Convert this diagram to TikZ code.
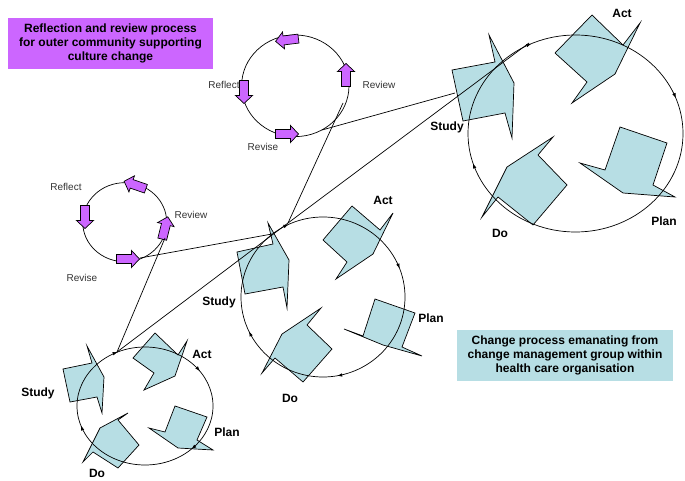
\documentclass[tikz,border=0pt]{standalone}
\usepackage{fontspec}
\setmainfont{Liberation Sans}
\usetikzlibrary{arrows.meta,decorations.markings}

\definecolor{pdsablue}{RGB}{183,222,228}
\definecolor{revpurple}{RGB}{204,102,255}

\tikzset{
  stage/.style={draw, fill=pdsablue, line width=0.7pt},
  loopring/.style={draw, line width=0.7pt},
  turn at/.style={postaction={decorate, decoration={markings,
      mark=at position #1 with {\arrow{Latex[length=5pt,width=3.5pt]}}}}},
  link/.style={draw, line width=0.7pt},
  small/.style={font=\fontsize{10}{12}\selectfont, text=black!80},
  phase/.style={font=\bfseries\fontsize{12}{14}\selectfont},
  notebox/.style={font=\bfseries\fontsize{12}{14}\selectfont, align=center,
      inner sep=0pt, minimum height=51pt},
  revarrow/.pic={\draw[fill=revpurple, line width=0.7pt]
      (-11.5,-4.5) -- (3.5,-4.5) -- (3.5,-8.5) -- (11.5,0) -- (3.5,8.5)
      -- (3.5,4.5) -- (-11.5,4.5) -- cycle;}
}

\begin{document}
\begin{tikzpicture}[x=1pt, y=-1pt]
    \useasboundingbox (0,0) rectangle (685,481);

    % captions
    \node[notebox, fill=revpurple, minimum width=205pt] (outer) at (110.5,43.5)
        {Reflection and review process\\for outer community supporting\\culture change};
    \node[notebox, fill=pdsablue, minimum width=216pt] (inner) at (565,355.5)
        {Change process emanating from\\change management group within\\health care organisation};

    % large cycle (right)
    \draw[stage] (452,70) -- (495,62) -- (489,35) -- (514,83) -- (512,138) -- (505,113) -- (463,121) -- cycle;
    \draw[stage] (592,15) -- (623,45) -- (640,23) -- (615,74) -- (572,103) -- (587,82) -- (555,53) -- cycle;
    \draw[stage] (620,127) -- (667,143) -- (653,185) -- (675,197) -- (623,193) -- (580,163) -- (605,170) -- cycle;
    \draw[stage] (553,137) -- (538,155) -- (567,185) -- (533,225) -- (498,197) -- (482,217) -- (507,167) -- cycle;
    \draw[loopring, turn at=0.453, turn at=0.68, turn at=0.944]
        (575.5,133.5) ellipse [x radius=107.5, y radius=98.5];
    \node[phase] (bigact) at (622,13) {Act};
    \node[phase] (bigstudy) at (447,127) {Study};
    \node[phase] (bigplan) at (664,221) {Plan};
    \node[phase] (bigdo) at (500,233) {Do};

    % middle cycle
    \draw[stage] (237,252) -- (273,244) -- (268,223) -- (289,260) -- (287,308) -- (283,287) -- (245,294) -- cycle;
    \draw[stage] (352,206) -- (380,230) -- (393,213) -- (373,254) -- (336,279) -- (347,262) -- (323,240) -- cycle;
    \draw[stage] (375,299) -- (415,313) -- (402,347) -- (422,356) -- (383,345) -- (344,329) -- (363,336) -- cycle;
    \draw[stage] (321,308) -- (307,325) -- (332,349) -- (303,382) -- (275,358) -- (262,373) -- (282,334) -- cycle;
    \draw[loopring, turn at=0.222, turn at=0.43, turn at=0.68, turn at=0.943]
        (323,297) ellipse [x radius=82, y radius=80];
    \node[phase] (midact) at (383,200) {Act};
    \node[phase] (midstudy) at (219,302) {Study};
    \node[phase] (midplan) at (431,318) {Plan};
    \node[phase] (middo) at (290,398) {Do};

    % small cycle (bottom left)
    \draw[stage] (63,369) -- (92,363) -- (87,346) -- (104,377) -- (102,413) -- (97,397) -- (70,402) -- cycle;
    \draw[stage] (155,333) -- (178,355) -- (187,341) -- (175,376) -- (144,390) -- (154,373) -- (133,358) -- cycle;
    \draw[stage] (175,406) -- (207,417) -- (197,440) -- (213,450) -- (178,448) -- (149,428) -- (165,432) -- cycle;
    \draw[stage] (128,413) -- (118,420) -- (139,445) -- (118,468) -- (93,452) -- (83,462) -- (100,428) -- cycle;
    \draw[loopring, turn at=0.125, turn at=0.45, turn at=0.68, turn at=0.905]
        (145,406) ellipse [x radius=68, y radius=59];
    \node[phase] (blact) at (202,354) {Act};
    \node[phase] (blstudy) at (38,393) {Study};
    \node[phase] (blplan) at (227,432) {Plan};
    \node[phase] (bldo) at (97,473) {Do};

    % review loops
    \draw[loopring] (295.3,85.8) ellipse [x radius=53.7, y radius=50.8];
    \pic[rotate=187] at (287,40) {revarrow};
    \pic[rotate=90] at (346,75) {revarrow};
    \pic[rotate=270] at (244,92) {revarrow};
    \pic at (287,134) {revarrow};
    \node[small] (topreflect) at (224,85) {Reflect};
    \node[small] (topreview) at (379,85) {Review};
    \node[small] (toprevise) at (263,147) {Revise};

    \draw[loopring] (124.7,222.2) ellipse [x radius=42, y radius=39.5];
    \pic[rotate=161] at (135,185) {revarrow};
    \pic[rotate=270] at (85,217) {revarrow};
    \pic[rotate=76] at (165,228) {revarrow};
    \pic at (128,259) {revarrow};
    \node[small] (lftreflect) at (66,187) {Reflect};
    \node[small] (lftreview) at (191,215) {Review};
    \node[small] (lftrevise) at (82,278) {Revise};

    % links between cycles
    \coordinate (topRv) at (343,103);
    \coordinate (topRs) at (322,130);
    \coordinate (lftRs) at (140,258);
    \coordinate (lftRv) at (165,238);
    \coordinate (blTop) at (117,352);
    \coordinate (midTop) at (288,223);
    \coordinate (midSt) at (272,234);
    \coordinate (bigTop) at (529,43);
    \coordinate (bigSt) at (455,93);
    \draw[link] (topRv) -- (midTop);
    \draw[link] (topRs) -- (bigSt);
    \draw[link] (lftRs) -- (midSt);
    \draw[link] (lftRv) -- (blTop);
    \draw[link] (blTop) -- (midTop) -- (bigTop);
\end{tikzpicture}
\end{document}
